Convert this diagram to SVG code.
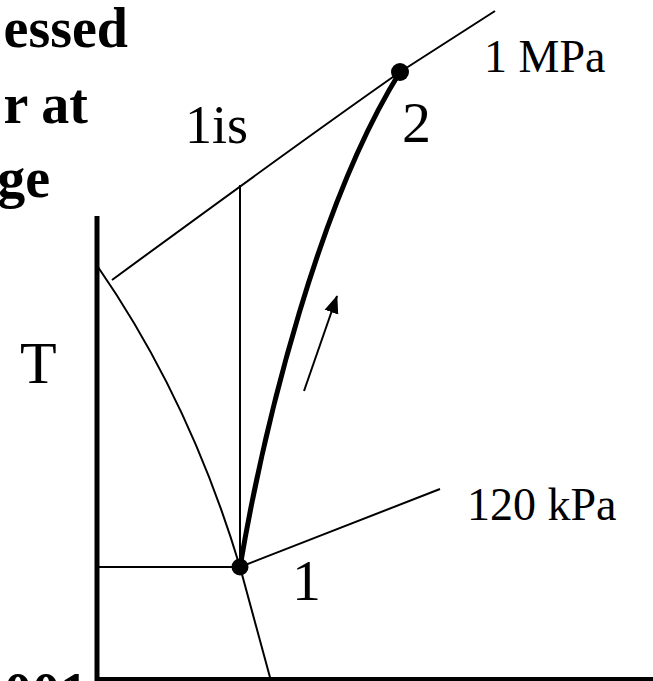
<svg xmlns="http://www.w3.org/2000/svg" width="653" height="681" viewBox="0 0 653 681">
<style>
.thin{fill:none;stroke:#000;stroke-width:2}
.axis{fill:none;stroke:#000;stroke-width:5}
.proc{fill:none;stroke:#000;stroke-width:5;stroke-linecap:round}
.lbl{font-family:"Liberation Serif","Times New Roman",serif;fill:#000}
.bold{font-family:"Liberation Serif","Times New Roman",serif;font-weight:bold;fill:#000;font-size:56px}
</style>
<defs>
<marker id="ah2" viewBox="0 0 20 16" refX="19" refY="8" markerWidth="18" markerHeight="15" markerUnits="userSpaceOnUse" orient="auto">
<path d="M0,0 L20,8 L0,16 z" fill="#000"/>
</marker>
</defs>
<rect width="653" height="681" fill="#fff"/>
<g id="title">
<text class="bold" x="128" y="47" text-anchor="end">essed</text>
<text class="bold" x="88" y="123" text-anchor="end">r at</text>
<text class="bold" x="50" y="197" text-anchor="end">ge</text>
<text class="bold" x="4" y="712" font-size="36">001</text>
</g>
<g id="axes">
<line class="axis" x1="97" y1="216" x2="97" y2="681"/>
<line class="axis" x1="95" y1="679.5" x2="653" y2="679.5"/>
<text class="lbl" x="20" y="383" font-size="60">T</text>
</g>
<g id="connectors">
<path class="thin" d="M98,267 Q190,400 240,567 L271,681"/>
<path class="thin" d="M112,280 Q300,142 400,72 L495,11"/>
<line class="thin" x1="240" y1="185" x2="240" y2="567"/>
<line class="thin" x1="97" y1="567" x2="240" y2="567"/>
<line class="thin" x1="240" y1="567" x2="440" y2="489"/>
<path class="proc" d="M240,567 C265,420 320,200 400,72"/>
<line class="thin" x1="304" y1="391" x2="337" y2="296" marker-end="url(#ah2)"/>
</g>
<g id="state1">
<circle cx="240" cy="567" r="8.5" fill="#000"/>
<text class="lbl" x="292" y="600" font-size="58">1</text>
</g>
<g id="state2">
<circle cx="400" cy="72" r="9" fill="#000"/>
<text class="lbl" x="402" y="142" font-size="58">2</text>
</g>
<g id="state1is">
<text class="lbl" x="185" y="143" font-size="54">1is</text>
</g>
<g id="p1">
<text class="lbl" x="484" y="72" font-size="46">1 MPa</text>
</g>
<g id="p2">
<text class="lbl" x="467" y="520" font-size="46">120 kPa</text>
</g>
</svg>
